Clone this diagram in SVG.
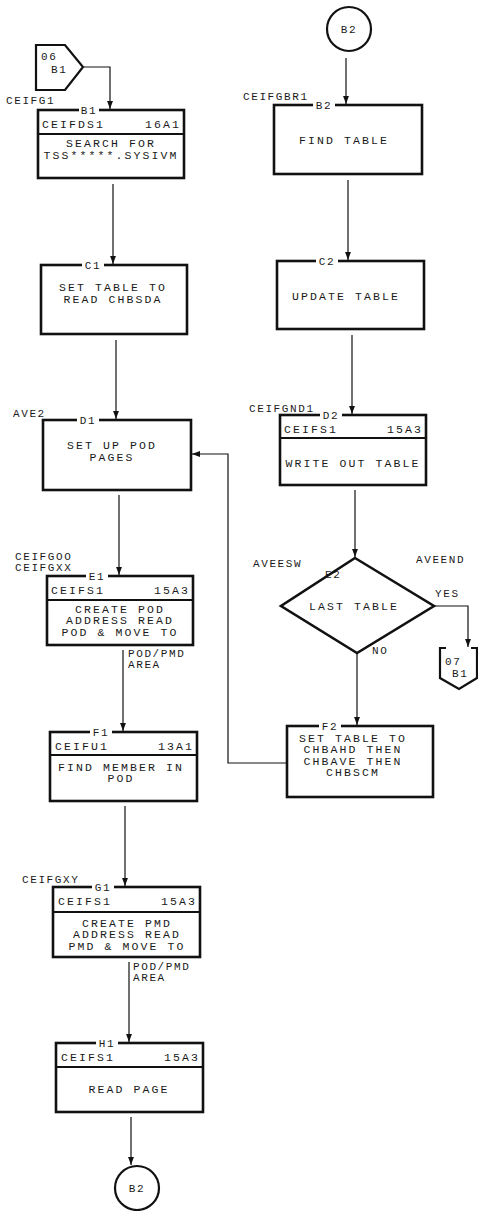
<svg xmlns="http://www.w3.org/2000/svg" width="478" height="1211" viewBox="0 0 478 1211">
<style>
text{font-family:"Liberation Mono","DejaVu Sans Mono",monospace;fill:#1a1a1a;font-size:11.5px;letter-spacing:2.1px}
.box{fill:#fff;stroke:#111;stroke-width:2.6}
.div{stroke:#111;stroke-width:2}
.gap{fill:#fff}
.lbl{font-size:11px;letter-spacing:1.6px}
.c{text-anchor:middle}
.r{text-anchor:end}
.conn{fill:none;stroke:#111;stroke-width:1.2}
.term{fill:#fff;stroke:#111;stroke-width:2.2}
</style>
<defs>
<marker id="ah" markerWidth="8" markerHeight="12" refX="11" refY="4" orient="auto" markerUnits="userSpaceOnUse" viewBox="0 0 11 8">
<path d="M0,0 L11,4 L0,8 z" fill="#111"/>
</marker>
</defs>

<g id="connectors">
<path class="conn" d="M84,67 H110 V109" marker-end="url(#ah)"/>
<path class="conn" d="M113,184 V264" marker-end="url(#ah)"/>
<path class="conn" d="M116,340 V419" marker-end="url(#ah)"/>
<path class="conn" d="M119,495 V575" marker-end="url(#ah)"/>
<path class="conn" d="M123,650 V731" marker-end="url(#ah)"/>
<path class="conn" d="M125,806 V886" marker-end="url(#ah)"/>
<path class="conn" d="M129,962 V1042" marker-end="url(#ah)"/>
<path class="conn" d="M131,1117 V1165" marker-end="url(#ah)"/>
<path class="conn" d="M346,58 V104" marker-end="url(#ah)"/>
<path class="conn" d="M348,180 V260" marker-end="url(#ah)"/>
<path class="conn" d="M352,335 V414" marker-end="url(#ah)"/>
<path class="conn" d="M355,490 V557" marker-end="url(#ah)"/>
<path class="conn" d="M434,606 H468 V647" marker-end="url(#ah)"/>
<path class="conn" d="M357,653 V725" marker-end="url(#ah)"/>
<path class="conn" d="M287,763 H228 V454 H192" marker-end="url(#ah)"/>
</g>

<g id="off06B1">
<path class="term" d="M36,45 H65 L83,67 L65,90 H36 Z"/>
<text class="lbl" x="41" y="60">06</text>
<text class="lbl" x="51" y="73">B1</text>
</g>
<text x="6" y="104" class="lbl">CEIFG1</text>

<g id="B1">
<rect class="box" x="38" y="110" width="146" height="68"/>
<line class="div" x1="38" y1="134" x2="184" y2="134"/>
<rect class="gap" x="79" y="106" width="20" height="8"/>
<text class="lbl c" x="89" y="114">B1</text>
<text x="42" y="128">CEIFDS1</text>
<text class="r" x="181" y="128">16A1</text>
<text class="c" x="111" y="147">SEARCH FOR</text>
<text class="c" x="111" y="158.5">TSS*****.SYSIVM</text>
</g>

<g id="C1">
<rect class="box" x="41" y="265" width="146" height="69"/>
<rect class="gap" x="82" y="261" width="22" height="8"/>
<text class="lbl c" x="93" y="269">C1</text>
<text class="c" x="113" y="291">SET TABLE TO</text>
<text class="c" x="113" y="302.5">READ CHBSDA</text>
</g>

<text x="13" y="417" class="lbl">AVE2</text>
<g id="D1">
<rect class="box" x="43" y="420" width="148" height="70"/>
<rect class="gap" x="77" y="416" width="22" height="8"/>
<text class="lbl c" x="88" y="424">D1</text>
<text class="c" x="112" y="449">SET UP POD</text>
<text class="c" x="112" y="460.5">PAGES</text>
</g>

<text x="15" y="560" class="lbl">CEIFGOO</text>
<text x="15" y="571" class="lbl">CEIFGXX</text>
<g id="E1">
<rect class="box" x="47" y="576" width="146" height="69"/>
<line class="div" x1="47" y1="600" x2="193" y2="600"/>
<rect class="gap" x="86" y="572" width="22" height="8"/>
<text class="lbl c" x="97" y="580">E1</text>
<text x="51" y="594">CEIFS1</text>
<text class="r" x="190" y="594">15A3</text>
<text class="c" x="120" y="612.5">CREATE POD</text>
<text class="c" x="120" y="624">ADDRESS READ</text>
<text class="c" x="120" y="635.5">POD &amp; MOVE TO</text>
</g>
<text x="128" y="657" class="lbl">POD/PMD</text>
<text x="128" y="668" class="lbl">AREA</text>

<g id="F1">
<rect class="box" x="50" y="732" width="147" height="69"/>
<line class="div" x1="50" y1="755" x2="197" y2="755"/>
<rect class="gap" x="90" y="728" width="22" height="8"/>
<text class="lbl c" x="101" y="736">F1</text>
<text x="55" y="750">CEIFU1</text>
<text class="r" x="194" y="750">13A1</text>
<text class="c" x="121" y="770.5">FIND MEMBER IN</text>
<text class="c" x="121" y="782">POD</text>
</g>

<text x="22" y="883" class="lbl">CEIFGXY</text>
<g id="G1">
<rect class="box" x="53" y="887" width="147" height="70"/>
<line class="div" x1="53" y1="912" x2="200" y2="912"/>
<rect class="gap" x="92" y="883" width="22" height="8"/>
<text class="lbl c" x="103" y="891">G1</text>
<text x="58" y="905">CEIFS1</text>
<text class="r" x="197" y="905">15A3</text>
<text class="c" x="127" y="926.5">CREATE PMD</text>
<text class="c" x="127" y="938">ADDRESS READ</text>
<text class="c" x="127" y="949.5">PMD &amp; MOVE TO</text>
</g>
<text x="133" y="970" class="lbl">POD/PMD</text>
<text x="133" y="981" class="lbl">AREA</text>

<g id="H1">
<rect class="box" x="56" y="1043" width="147" height="69"/>
<line class="div" x1="56" y1="1067" x2="203" y2="1067"/>
<rect class="gap" x="96" y="1039" width="22" height="8"/>
<text class="lbl c" x="107" y="1047">H1</text>
<text x="61" y="1061">CEIFS1</text>
<text class="r" x="200" y="1061">15A3</text>
<text class="c" x="129" y="1093">READ PAGE</text>
</g>

<g id="B2bottom">
<circle class="term" cx="137" cy="1188" r="22"/>
<text class="lbl c" x="137" y="1192">B2</text>
</g>

<g id="B2top">
<circle class="term" cx="349" cy="29" r="22"/>
<text class="lbl c" x="349" y="33">B2</text>
</g>

<text x="243" y="100" class="lbl">CEIFGBR1</text>
<g id="B2">
<rect class="box" x="274" y="105" width="148" height="69"/>
<rect class="gap" x="313" y="101" width="22" height="8"/>
<text class="lbl c" x="324" y="109">B2</text>
<text class="c" x="344" y="144">FIND TABLE</text>
</g>

<g id="C2">
<rect class="box" x="277" y="261" width="147" height="68"/>
<rect class="gap" x="316" y="257" width="22" height="8"/>
<text class="lbl c" x="327" y="265">C2</text>
<text class="c" x="346" y="300">UPDATE TABLE</text>
</g>

<text x="249" y="412" class="lbl">CEIFGND1</text>
<g id="D2">
<rect class="box" x="280" y="415" width="146" height="70"/>
<line class="div" x1="280" y1="438" x2="426" y2="438"/>
<rect class="gap" x="320" y="411" width="22" height="8"/>
<text class="lbl c" x="331" y="419">D2</text>
<text x="284" y="433">CEIFS1</text>
<text class="r" x="423" y="433">15A3</text>
<text class="c" x="353" y="467">WRITE OUT TABLE</text>
</g>

<text x="253" y="567" class="lbl">AVEESW</text>
<text x="416" y="563" class="lbl">AVEEND</text>
<g id="E2">
<path class="box" d="M355,558 L434,606 L357,653 L281,606 Z"/>
<text class="lbl" x="325" y="578">E2</text>
<text class="c" x="354" y="610">LAST TABLE</text>
<text class="lbl" x="435" y="597">YES</text>
<text class="lbl" x="372" y="654">NO</text>
</g>

<g id="off07B1">
<path class="term" fill="none" d="M446,648 H440 V678 L459,689 L477,678 V648 H471"/>
<text class="lbl" x="445" y="665">07</text>
<text class="lbl" x="452" y="677">B1</text>
</g>

<g id="F2">
<rect class="box" x="287" y="726" width="146" height="71"/>
<rect class="gap" x="319" y="722" width="22" height="8"/>
<text class="lbl c" x="330" y="730">F2</text>
<text class="c" x="353" y="741.5">SET TABLE TO</text>
<text class="c" x="353" y="753">CHBAHD THEN</text>
<text class="c" x="353" y="764.5">CHBAVE THEN</text>
<text class="c" x="353" y="776">CHBSCM</text>
</g>
</svg>
